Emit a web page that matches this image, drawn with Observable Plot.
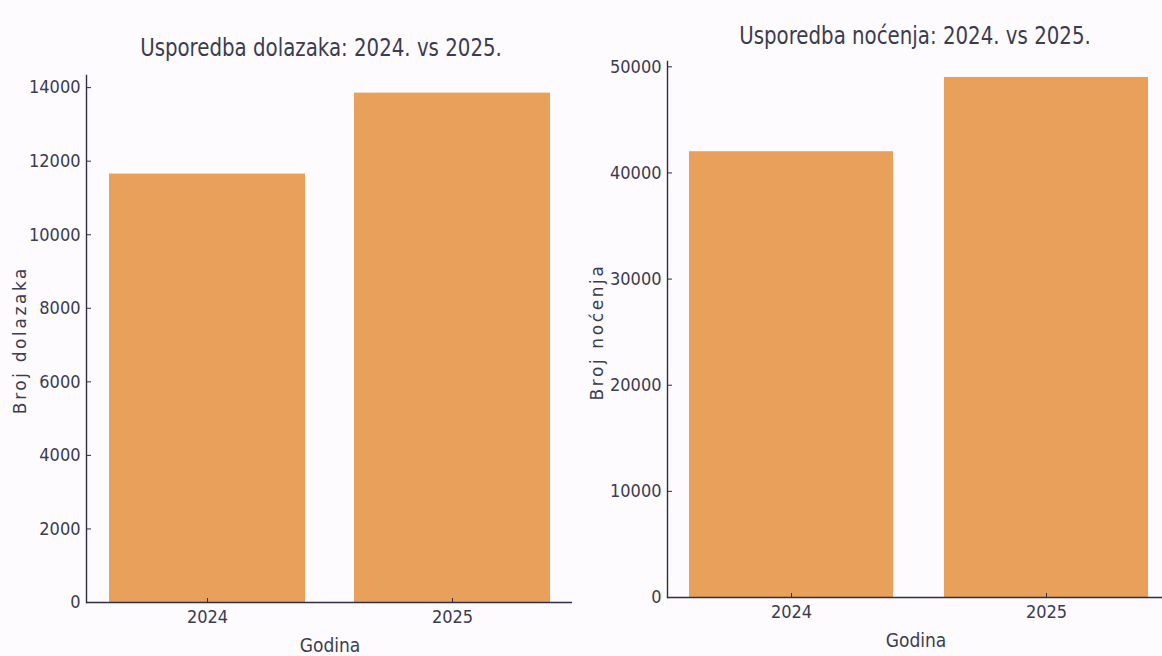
<!DOCTYPE html>
<html><head><meta charset="utf-8">
<script src="https://cdn.jsdelivr.net/npm/d3@7"></script>
<script src="https://cdn.jsdelivr.net/npm/@observablehq/plot@0.6"></script>
<style>
body{margin:0;background:#fdfbfd;}
#wrap{position:relative;width:1162px;height:656px;overflow:hidden;background:#fdfbfd;font-family:"Liberation Sans Narrow","DejaVu Sans Condensed","Roboto Condensed",sans-serif;color:#3c3c50}
.title{position:absolute;font-size:25px;white-space:nowrap;transform:translate(-50%,-50%) scaleX(0.88)}
.ylab{position:absolute;font-family:"DejaVu Sans",sans-serif;font-size:17px;letter-spacing:2.6px;transform:translate(-50%,-50%) rotate(-90deg);white-space:nowrap}
.xlab{position:absolute;font-size:19px;transform:translate(-50%,-50%);white-space:nowrap}
.chart{position:absolute}
</style></head>
<body>
<div id="wrap">
  <div class="title" style="left:321px;top:47px">Usporedba dolazaka: 2024. vs 2025.</div>
  <div class="title" style="left:915px;top:35px">Usporedba noćenja: 2024. vs 2025.</div>
  <div class="ylab" style="left:20px;top:340px">Broj dolazaka</div>
  <div class="ylab" style="left:597px;top:332px">Broj noćenja</div>
  <div class="xlab" style="left:330px;top:645px">Godina</div>
  <div class="xlab" style="left:916px;top:640px">Godina</div>
  <div class="chart" id="left" style="left:0;top:60px"></div>
  <div class="chart" id="right" style="left:580px;top:40px"></div>
</div>
<script>
const years = ["2024", "2025"];
const dolasci = [11650, 13850];
const nocenja = [42000, 49000];
const ticksDolasci = [0, 2000, 4000, 6000, 8000, 10000, 12000, 14000];
const ticksNocenja = [0, 10000, 20000, 30000, 40000, 50000];

const barColor = "#e9a05b";
const axisColor = "#2e2e44";
const font = '"Liberation Sans Narrow","DejaVu Sans Condensed","Roboto Condensed",sans-serif';

function chart({values, ticks, ymax, width, height, marginLeft, marginTop, marginBottom, xRange, paddingOuter}) {
  const data = years.map((y, i) => ({year: y, value: values[i]}));
  return Plot.plot({
    width, height, marginLeft, marginTop, marginBottom, marginRight: 0,
    style: {background: "transparent", fontFamily: font, fontSize: "18px", color: "#3c3c50", overflow: "hidden"},
    x: {domain: years, range: xRange, paddingInner: 0.2, paddingOuter, label: null},
    y: {domain: [0, ymax], label: null},
    marks: [
      Plot.barY(data, {x: "year", y: "value", fill: barColor}),
      Plot.axisY({ticks, tickSize: -5, tickPadding: 11, tickFormat: d => String(d), stroke: axisColor, label: null}),
      Plot.axisX({tickSize: -4, tickPadding: 12, stroke: axisColor, label: null}),
      Plot.ruleY([0], {stroke: axisColor, strokeWidth: 1.6}),
      Plot.frame({anchor: "left", stroke: axisColor, strokeWidth: 1.4})
    ]
  });
}

document.getElementById("left").append(chart({
  values: dolasci, ticks: ticksDolasci, ymax: 14330,
  width: 572, height: 596, marginLeft: 86, marginTop: 15, marginBottom: 54,
  xRange: [86, 572], paddingOuter: 0.09
}));
document.getElementById("right").append(chart({
  values: nocenja, ticks: ticksNocenja, ymax: 50500,
  width: 582, height: 616, marginLeft: 87, marginTop: 21, marginBottom: 59,
  xRange: [87, 590], paddingOuter: 0.086
}));
</script>
</body></html>
